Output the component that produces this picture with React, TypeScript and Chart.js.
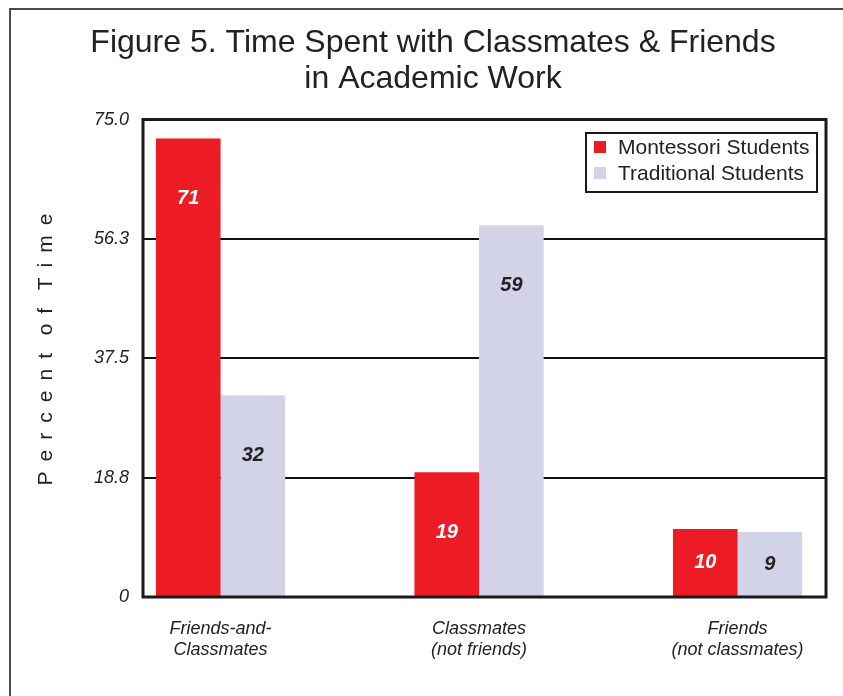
import React, { useEffect, useRef } from "react";
import { Chart, registerables } from "chart.js";

Chart.register(...registerables);

const titleLines = ["Figure 5. Time Spent with Classmates & Friends", "in Academic Work"];
const yAxisTitleWords = ["Percent", "of", "Time"];
const categories = [
  ["Friends-and-", "Classmates"],
  ["Classmates", "(not friends)"],
  ["Friends", "(not classmates)"],
];
const seriesNames = ["Montessori Students", "Traditional Students"];
const montessoriValues = [72, 19.6, 10.7];
const traditionalValues = [31.7, 58.4, 10.2];
const montessoriLabels = ["71", "19", "10"];
const traditionalLabels = ["32", "59", "9"];
const yTickValues = [0, 18.75, 37.5, 56.25, 75];
const yTickLabels = ["0", "18.8", "37.5", "56.3", "75.0"];

const FONT = "'Liberation Sans', Arial, Helvetica, sans-serif";
const RED = "#ED1C24";
const LAVENDER = "#D3D3E8";
const INK = "#222222";

// letter-spaced axis title, as in the original
const spacedYTitle =
  "   " + yAxisTitleWords.map((w) => w.split("").join(" \u2009")).join("   ");

const frameBorderPlugin = {
  id: "frameBorder",
  afterDatasetsDraw(chart: any) {
    const { ctx, chartArea } = chart;
    ctx.save();
    ctx.strokeStyle = "#1a1a1a";
    ctx.lineWidth = 3;
    ctx.strokeRect(chartArea.left, chartArea.top, chartArea.right - chartArea.left, chartArea.bottom - chartArea.top);
    ctx.restore();
  },
};

const valueLabelPlugin = {
  id: "valueLabels",
  afterDatasetsDraw(chart: any) {
    const { ctx } = chart;
    ctx.save();
    ctx.font = `italic bold 20px ${FONT}`;
    ctx.textAlign = "center";
    ctx.textBaseline = "middle";
    chart.data.datasets.forEach((ds: any, di: number) => {
      const meta = chart.getDatasetMeta(di);
      meta.data.forEach((bar: any, i: number) => {
        const h = bar.base - bar.y;
        const cy = bar.y + Math.min(h / 2, 60);
        ctx.fillStyle = ds.labelColor;
        ctx.fillText(ds.valueLabels[i], bar.x, cy);
      });
    });
    ctx.restore();
  },
};

const boxLegendPlugin = {
  id: "boxLegend",
  afterDraw(chart: any) {
    const { ctx, chartArea } = chart;
    const w = 231;
    const h = 59;
    const right = chartArea.right - 9;
    const left = right - w;
    const top = chartArea.top + 13.5;
    ctx.save();
    ctx.fillStyle = "#ffffff";
    ctx.fillRect(left, top, w, h);
    ctx.strokeStyle = "#1a1a1a";
    ctx.lineWidth = 2;
    ctx.strokeRect(left, top, w, h);
    ctx.font = `21px ${FONT}`;
    ctx.textBaseline = "middle";
    ctx.textAlign = "left";
    chart.data.datasets.forEach((ds: any, i: number) => {
      const y = top + 14 + i * 26;
      ctx.fillStyle = ds.backgroundColor;
      ctx.fillRect(left + 8, y - 6, 12, 12);
      ctx.fillStyle = INK;
      ctx.fillText(ds.label, left + 32, y + 1);
    });
    ctx.restore();
  },
};

export default function App() {
  const canvasRef = useRef<HTMLCanvasElement | null>(null);

  useEffect(() => {
    if (!canvasRef.current) return;
    const chart = new Chart(canvasRef.current, {
      type: "bar",
      data: {
        datasets: [
          {
            label: seriesNames[0],
            data: montessoriValues.map((v, i) => ({ x: i, y: v })),
            backgroundColor: RED,
            borderWidth: 0,
            valueLabels: montessoriLabels,
            labelColor: "#ffffff",
          } as any,
          {
            label: seriesNames[1],
            data: traditionalValues.map((v, i) => ({ x: i, y: v })),
            backgroundColor: LAVENDER,
            borderWidth: 0,
            valueLabels: traditionalLabels,
            labelColor: INK,
          } as any,
        ],
      },
      options: {
        animation: false,
        responsive: false,
        devicePixelRatio: 1,
        layout: { padding: 0 },
        datasets: { bar: { categoryPercentage: 0.5, barPercentage: 1 } },
        plugins: {
          legend: { display: false },
          tooltip: { enabled: false },
          title: {
            display: true,
            text: titleLines,
            color: INK,
            font: { family: FONT, size: 32, weight: "normal", lineHeight: 1.125 },
            padding: { top: 25, bottom: 22.5 },
          },
        },
        scales: {
          x: {
            type: "linear",
            offset: false,
            min: -0.3,
            max: 2.342,
            grid: { display: false, drawTicks: false, offset: false },
            border: { display: false },
            afterBuildTicks: (s: any) => {
              s.ticks = categories.map((_, i) => ({ value: i }));
            },
            afterFit: (s: any) => {
              s.height = 99;
            },
            ticks: {
              autoSkip: false,
              maxRotation: 0,
              padding: 21,
              color: INK,
              font: { family: FONT, size: 18, style: "italic", lineHeight: 1.2 },
              callback: (v: any) => categories[Math.round(Number(v))] as any,
            },
          },
          y: {
            type: "linear",
            position: "left",
            min: 0,
            max: 75,
            afterBuildTicks: (s: any) => {
              s.ticks = yTickValues.map((v) => ({ value: v }));
            },
            afterFit: (s: any) => {
              s.width = 143;
            },
            grid: { color: "#111111", lineWidth: 2, drawTicks: false },
            border: { display: false },
            ticks: {
              padding: 14,
              color: INK,
              font: { family: FONT, size: 18, style: "italic" },
              callback: (_v: any, i: number) => yTickLabels[i],
            },
            title: {
              display: true,
              text: spacedYTitle,
              color: INK,
              font: { family: FONT, size: 21, weight: "normal", lineHeight: 1.2 },
              padding: { top: 34, bottom: 0 },
            },
          },
          yRight: {
            type: "linear",
            position: "right",
            display: true,
            grid: { display: false, drawTicks: false },
            border: { display: false },
            ticks: { display: false },
            afterFit: (s: any) => {
              s.width = 40;
            },
          },
        },
      } as any,
      plugins: [frameBorderPlugin, valueLabelPlugin, boxLegendPlugin],
    });
    return () => chart.destroy();
  }, []);

  return (
    <div
      style={{
        position: "absolute",
        left: 0,
        top: 0,
        width: 843,
        height: 696,
        overflow: "hidden",
        background: "#ffffff",
      }}
    >
      <div
        style={{
          position: "absolute",
          left: 9,
          top: 8,
          width: 900,
          height: 800,
          borderTop: "2px solid #4a4a4a",
          borderLeft: "2px solid #4a4a4a",
        }}
      />
      <canvas
        ref={canvasRef}
        width={866}
        height={696}
        style={{ position: "absolute", left: 0, top: 0, width: 866, height: 696 }}
      />
    </div>
  );
}
